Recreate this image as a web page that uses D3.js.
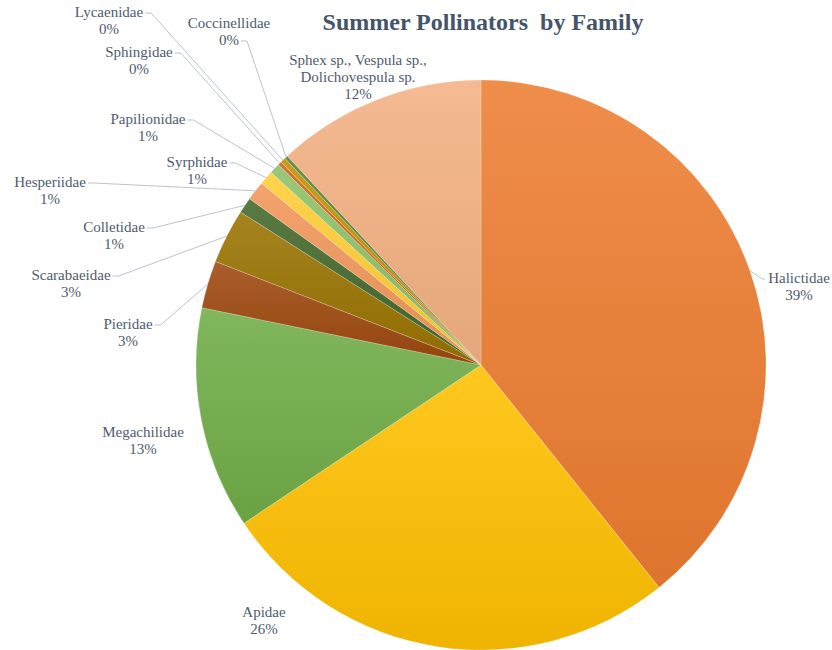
<!DOCTYPE html>
<html>
<head>
<meta charset="utf-8">
<script src="https://cdn.jsdelivr.net/npm/d3@7"></script>
<style>
  body { margin: 0; background: #fff; }
  svg { display: block; }
</style>
</head>
<body>
<svg width="832" height="650"></svg>
<script>
// data (percent of summer pollinator records)
var families = ['Halictidae', 'Apidae', 'Megachilidae', 'Pieridae', 'Scarabaeidae',
    'Colletidae', 'Hesperiidae', 'Syrphidae', 'Papilionidae', 'Sphingidae',
    'Lycaenidae', 'Coccinellidae', 'Sphex sp., Vespula sp.,|Dolichovespula sp.'];
var shares = [39.3, 26.4, 12.6, 2.7, 3.1, 0.9, 1.1, 0.8, 0.6, 0.2, 0.3, 0.2, 11.9];
var colors = ['#ED7D31', '#FFC000', '#70AD47', '#9E480E', '#997300', '#43682B',
    '#F1975A', '#FFCD33', '#8CC168', '#D26012', '#BF9000', '#548235', '#F4B183'];

// label layout: centre x, first baseline y, where the leader attaches
var labelPos = [
    [799, 283, 'l1'], [264, 617, null], [143, 437, null], [128, 329, 'r1'],
    [71, 280, 'r1'], [114, 232, 'r1'], [50, 187, 'r1'], [197, 167, 'r1'],
    [148, 124, 'r1'], [139, 57, 'r1'], [109, 17, 'r1'], [229, 28, 'r2'],
    [358, 65, null]
];

var serif = "'Liberation Serif'";
var svg = d3.select('svg');
var cx = 481, cy = 365, radius = 285;
var lineH = 17;

var data = families.map((f, i) => ({ name: f, value: shares[i], color: colors[i], pos: labelPos[i] }));
var total = d3.sum(shares);
var pct = d3.format('.0%');

var pie = d3.pie().sort(null).value(d => d.value);
var arcs = pie(data);

var arc = d3.arc().innerRadius(0).outerRadius(radius);
var edge = d3.arc().innerRadius(radius).outerRadius(radius);

// vertical gradients, lighter at the top like the office style
var defs = svg.append('defs');
arcs.forEach((d, i) => {
    var g = defs.append('linearGradient')
        .attr('id', 'grad' + i)
        .attr('x1', 0).attr('y1', 0).attr('x2', 0).attr('y2', 1);
    g.append('stop').attr('offset', '0%')
        .attr('stop-color', d3.interpolateRgb(d.data.color, '#fff')(0.12));
    g.append('stop').attr('offset', '100%')
        .attr('stop-color', d3.rgb(d.data.color).darker(0.18));
});

var g = svg.append('g').attr('transform', `translate(${cx},${cy})`);

g.selectAll('path.slice')
    .data(arcs)
    .enter()
    .append('path')
    .attr('class', 'slice')
    .attr('d', arc)
    .attr('fill', (d, i) => `url(#grad${i})`)
    .attr('stroke', '#fff')
    .attr('stroke-opacity', 0.35)
    .attr('stroke-width', 0.6);

// title
svg.append('text')
    .attr('x', 483)
    .attr('y', 30)
    .attr('text-anchor', 'middle')
    .style('font-family', serif)
    .attr('font-weight', 'bold')
    .attr('font-size', 24)
    .attr('fill', '#44546A')
    .attr('xml:space', 'preserve')
    .text('Summer Pollinators  by Family');

// labels
var labels = svg.append('g')
    .attr('font-size', 15)
    .attr('fill', '#4F5B6E');

var leaders = svg.append('g')
    .attr('fill', 'none')
    .attr('stroke', '#B4BCC8')
    .attr('stroke-width', 0.9);

arcs.forEach(d => {
    var p = d.data.pos;
    var lines = d.data.name.split('|').concat(pct(d.data.value / total));
    var t = labels.append('text')
        .style('font-family', serif)
        .attr('text-anchor', 'middle');
    var nodes = lines.map((s, k) => t.append('tspan')
        .attr('x', p[0])
        .attr('y', p[1] + k * lineH)
        .text(s));

    if (!p[2]) return;
    var k = p[2] === 'r2' ? 1 : 0;
    var w = nodes[k].node().getComputedTextLength();
    var ay = p[1] + k * lineH - 4;
    var target = edge.centroid(d);
    var tx = cx + target[0], ty = cy + target[1];
    var pts;
    if (p[2] === 'l1') {
        var ax = p[0] - w / 2 - 3;
        pts = [[ax, ay], [ax - 3, ay], [tx, ty]];
    } else {
        var ax2 = p[0] + w / 2 + 2;
        pts = [[ax2, ay], [ax2 + 6, ay], [tx, ty]];
    }
    leaders.append('path').attr('d', d3.line()(pts));
});
</script>
</body>
</html>
